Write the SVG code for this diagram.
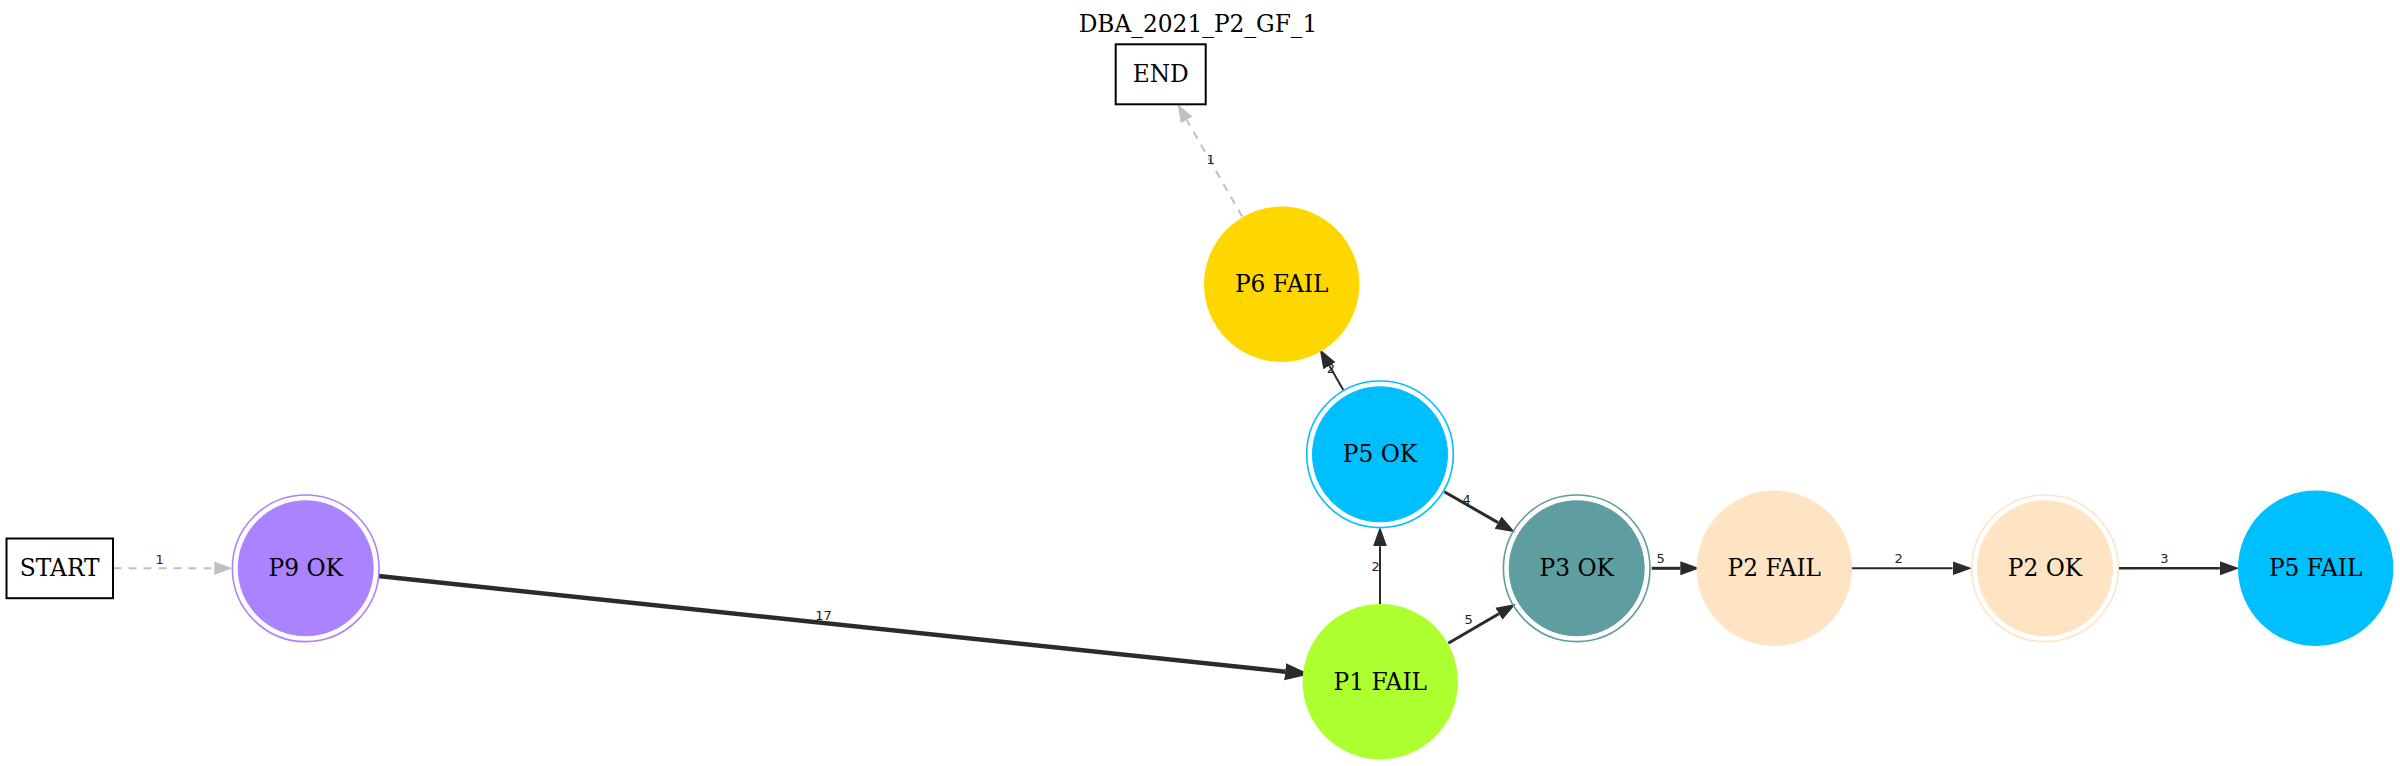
<svg xmlns="http://www.w3.org/2000/svg" width="2400" height="766" viewBox="0 0 2400 766">
<style>
.nt{font-family:"DejaVu Serif","Liberation Serif",serif;font-size:23.3px;fill:#000;text-anchor:middle}
.el{font-family:"DejaVu Sans","Liberation Sans",sans-serif;font-size:13px;fill:#222;text-anchor:middle}
.box{fill:#fff;stroke:#000;stroke-width:2}
.e{fill:none;stroke:#2b2b2b}
.g{fill:none;stroke:#c0c0c0;stroke-width:2;stroke-dasharray:8,7}
.ring{fill:none;stroke-width:1.6}
</style>
<defs>
<marker id="ag" markerUnits="userSpaceOnUse" markerWidth="20" markerHeight="16" viewBox="0 -8 20 16" refX="0" refY="0" orient="auto"><path d="M0,-6.7 L18,0 L0,6.7 z" fill="#c0c0c0"/></marker>
<marker id="ad" markerUnits="userSpaceOnUse" markerWidth="22" markerHeight="18" viewBox="0 -9 22 18" refX="0" refY="0" orient="auto"><path d="M0,-7 L19.5,0 L0,7 z" fill="#2b2b2b"/></marker>
<marker id="ab" markerUnits="userSpaceOnUse" markerWidth="28" markerHeight="20" viewBox="0 -10 28 20" refX="0" refY="0" orient="auto"><path d="M0,-8.6 L25,0 L0,8.6 z" fill="#2b2b2b"/></marker>
</defs>
<rect width="2400" height="766" fill="#fff"/>
<text class="nt" x="1198" y="32">DBA_2021_P2_GF_1</text>
<g id="connectors">
<line class="g" x1="113.5" y1="568.3" x2="214.3" y2="568.3" marker-end="url(#ag)"/>
<text class="el" x="159.7" y="564">1</text>
<line class="e" style="stroke-width:4.5" x1="378.3" y1="576" x2="1285.1" y2="671.7" marker-end="url(#ab)"/>
<text class="el" x="823.5" y="620">17</text>
<line class="e" style="stroke-width:2" x1="1380" y1="604" x2="1380" y2="546.3" marker-end="url(#ad)"/>
<text class="el" x="1375.7" y="570.7">2</text>
<line class="e" style="stroke-width:3" x1="1448.3" y1="643.3" x2="1498.9" y2="613.8" marker-end="url(#ad)"/>
<text class="el" x="1468.7" y="624">5</text>
<line class="e" style="stroke-width:3" x1="1444.3" y1="491.7" x2="1498.1" y2="522.6" marker-end="url(#ad)"/>
<text class="el" x="1466.7" y="504">4</text>
<line class="e" style="stroke-width:2" x1="1343.3" y1="390" x2="1329.4" y2="365.8" marker-end="url(#ad)"/>
<text class="el" x="1331" y="373">2</text>
<line class="g" x1="1242.3" y1="216.7" x2="1186.7" y2="119.9" marker-end="url(#ag)"/>
<text class="el" x="1210.7" y="164">1</text>
<line class="e" style="stroke-width:3" x1="1651.7" y1="568.3" x2="1680.3" y2="568.3" marker-end="url(#ad)"/>
<text class="el" x="1660.7" y="563.3">5</text>
<line class="e" style="stroke-width:2" x1="1852" y1="568.3" x2="1952.5" y2="568.3" marker-end="url(#ad)"/>
<text class="el" x="1898.7" y="563.3">2</text>
<line class="e" style="stroke-width:2.4" x1="2119" y1="568.3" x2="2219.8" y2="568.3" marker-end="url(#ad)"/>
<text class="el" x="2164.3" y="563.3">3</text>
</g>
<g id="START"><rect class="box" x="6.5" y="538.5" width="106.5" height="59.7"/><text class="nt" x="59.7" y="576">START</text></g>
<g id="END"><rect class="box" x="1115.7" y="44.3" width="90" height="60"/><text class="nt" x="1160.7" y="82">END</text></g>
<g id="P9_OK"><circle class="ring" cx="305.7" cy="568.3" r="73.3" stroke="#ab82ff"/><circle cx="305.7" cy="568.3" r="67.5" fill="#ab82ff" stroke="#ab82ff"/><text class="nt" x="305.7" y="576">P9 OK</text></g>
<g id="P6_FAIL"><circle cx="1281.7" cy="284.3" r="77.7" fill="#ffd700"/><text class="nt" x="1281.7" y="292">P6 FAIL</text></g>
<g id="P5_OK"><circle class="ring" cx="1380" cy="454.3" r="73.3" stroke="#00bfff"/><circle cx="1380" cy="454.3" r="67.5" fill="#00bfff" stroke="#00bfff"/><text class="nt" x="1380" y="462">P5 OK</text></g>
<g id="P1_FAIL"><circle cx="1380.3" cy="681.7" r="77.7" fill="#adff2f"/><text class="nt" x="1380.3" y="689.5">P1 FAIL</text></g>
<g id="P3_OK"><circle class="ring" cx="1576.7" cy="568.3" r="73.3" stroke="#5f9ea0"/><circle cx="1576.7" cy="568.3" r="67.5" fill="#5f9ea0" stroke="#5f9ea0"/><text class="nt" x="1576.7" y="576">P3 OK</text></g>
<g id="P2_FAIL"><circle cx="1774.3" cy="568.3" r="77.7" fill="#ffe4c4"/><text class="nt" x="1774.3" y="576">P2 FAIL</text></g>
<g id="P2_OK"><circle class="ring" cx="2045" cy="568.3" r="73.3" stroke="#ffe4c4"/><circle cx="2045" cy="568.3" r="67.5" fill="#ffe4c4" stroke="#ffe4c4"/><text class="nt" x="2045" y="576">P2 OK</text></g>
<g id="P5_FAIL"><circle cx="2315.7" cy="568.3" r="77.7" fill="#00bfff"/><text class="nt" x="2315.7" y="576">P5 FAIL</text></g>
</svg>
